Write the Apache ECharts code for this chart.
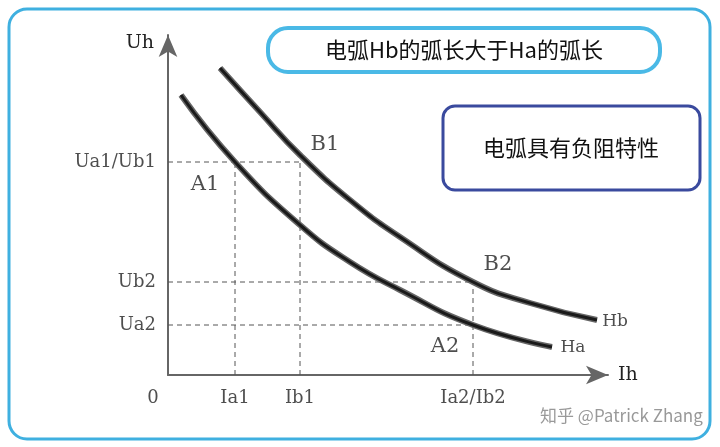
<!DOCTYPE html><html><head><meta charset="utf-8">
<script src="https://cdn.jsdelivr.net/npm/echarts@6/dist/echarts.min.js"></script>
<style>html,body{margin:0;background:#fff}#c{width:720px;height:447px}</style></head><body><div id="c"></div>
<script>
const hb=[[52,307],[92,263],[132,220],[182,175],[232,138],[305,93],[362,72],[429,55]];
const ha=[[13,280],[67,213],[132,150],[182,113],[232,85],[305,50],[384,28]];
const yTicks=[["Ua1/Ub1",213],["Ub2",93],["Ua2",50]];
const xTicks=[["0",-15],["Ia1",67],["Ib1",132],["Ia2/Ib2",305]];
const pointLabels=[["B1",157,230],["A1",37,190],["B2",330,110],["A2",277,28],["Hb",447,53],["Ha",405,27]];
const guides=[[[0,213],[132,213]],[[0,93],[305,93]],[[0,50],[305,50]],[[67,0],[67,213]],[[132,0],[132,213]],[[305,0],[305,93]]];
const font='DejaVu Serif';
const series=[];
guides.forEach(g=>series.push({type:'line',data:g,symbol:'none',silent:true,lineStyle:{color:'#555',width:1,type:[5,4]}}));
[hb,ha].forEach(d=>{
 series.push({type:'line',data:d,smooth:0.5,symbol:'none',lineStyle:{color:'#666',width:6}});
 series.push({type:'line',data:d,smooth:0.5,symbol:'none',lineStyle:{color:'#1a1a1a',width:3}});
});
series.push({type:'scatter',clip:false,symbolSize:0,data:yTicks.map(t=>({value:[0,t[1]],label:{show:true,formatter:t[0],position:'left',distance:12,fontFamily:font,fontSize:18,color:'#222'}}))});
series.push({type:'scatter',clip:false,symbolSize:0,data:xTicks.map(t=>({value:[t[1],0],label:{show:true,formatter:t[0],position:'bottom',distance:14,fontFamily:font,fontSize:18,color:'#222'}}))});
series.push({type:'scatter',clip:false,symbolSize:0,data:pointLabels.map(t=>({value:[t[1],t[2]],label:{show:true,formatter:t[0],position:'inside',fontFamily:font,fontSize:t[0][0]=='H'?17:21,color:'#222'}}))});
const ch=echarts.init(document.getElementById('c'));
ch.setOption({
 animation:false,
 grid:{left:168,right:112,top:35,bottom:72},
 xAxis:{type:'value',min:0,max:440,splitLine:{show:false},axisTick:{show:false},axisLabel:{show:false},
   axisLine:{onZero:false,lineStyle:{color:'#666',width:2},symbol:['none','arrow'],symbolSize:[14,22]},name:'Ih',nameGap:10,nameTextStyle:{fontFamily:font,fontSize:19,color:'#222'}},
 yAxis:{type:'value',min:0,max:340,splitLine:{show:false},axisTick:{show:false},axisLabel:{show:false},
   axisLine:{onZero:false,lineStyle:{color:'#666',width:2},symbol:['none','arrow'],symbolSize:[14,22]},name:'Uh',nameLocation:'end',nameGap:-18,nameTextStyle:{fontFamily:font,fontSize:19,color:'#222',align:'right',padding:[0,14,0,0]}},
 series:series,
 graphic:[
  {type:'rect',shape:{x:9,y:9,width:701,height:430,r:18},style:{fill:'none',stroke:'#3fb0e0',lineWidth:3}},
  {type:'rect',shape:{x:268,y:28,width:392,height:44,r:20},style:{fill:'#fff',stroke:'#4ab9e6',lineWidth:4}},
  {type:'text',x:464,y:50,style:{text:'电弧Hb的弧长大于Ha的弧长',font:'22px "Noto Sans CJK SC"',fill:'#111',align:'center',verticalAlign:'middle'}},
  {type:'rect',shape:{x:443,y:106,width:257,height:84,r:12},style:{fill:'#fff',stroke:'#3a4a9e',lineWidth:3}},
  {type:'text',x:571,y:148,style:{text:'电弧具有负阻特性',font:'22px "Noto Sans CJK SC"',fill:'#111',align:'center',verticalAlign:'middle'}},
  {type:'text',x:540,y:416,style:{text:'知乎 @Patrick Zhang',font:'17px "Noto Sans CJK SC"',fill:'#999',verticalAlign:'middle'}}
 ]
});
</script></body></html>
